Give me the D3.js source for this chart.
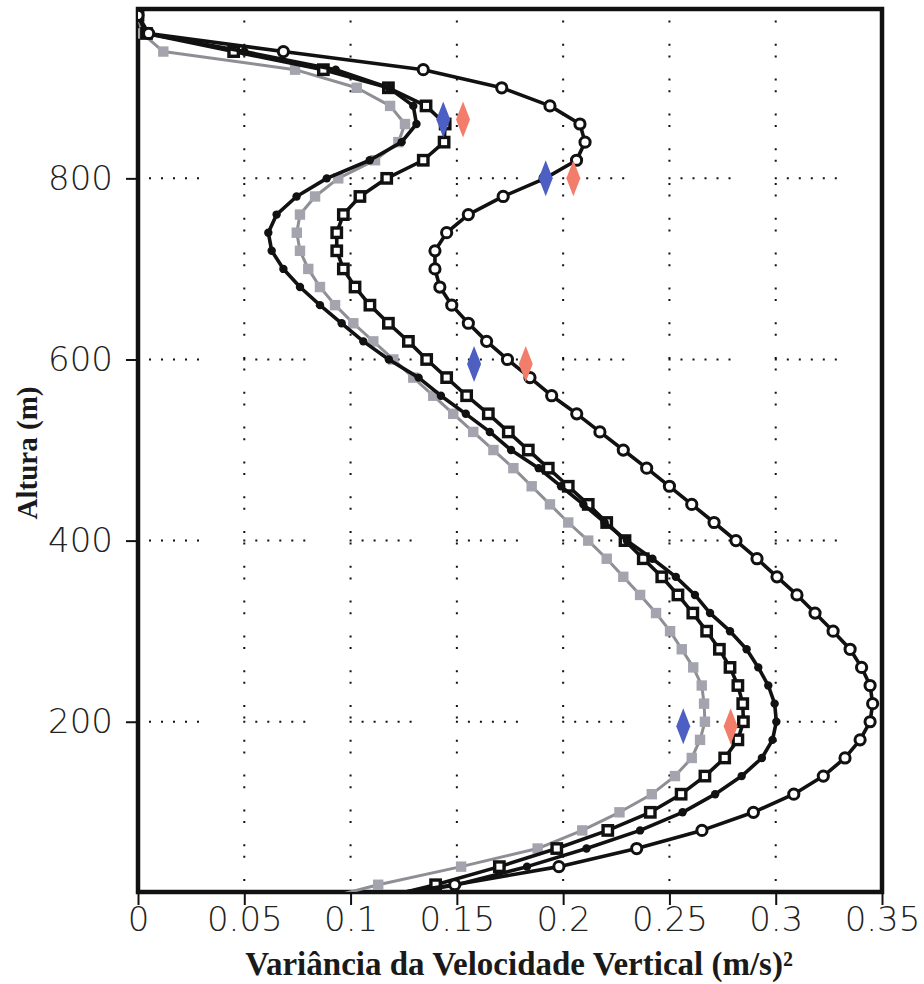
<!DOCTYPE html>
<html>
<head>
<meta charset="utf-8">
<script src="https://cdn.jsdelivr.net/npm/d3@7"></script>
<style>
  html, body { margin: 0; padding: 0; background: #ffffff; }
  svg { display: block; }
</style>
</head>
<body>
<svg id="chart" width="924" height="984"></svg>
<script>
// Alturas (m) dos níveis do modelo
const alturas = [0, 20, 40, 60, 80, 100, 120, 140, 160, 180, 200, 220, 240, 260, 280, 300,
  320, 340, 360, 380, 400, 420, 440, 460, 480, 500, 520, 540, 560, 580, 600, 620, 640,
  660, 680, 700, 720, 740, 760, 780, 800, 820, 840, 860, 880, 900, 920, 940, 960, 980, 1000];

// Variância da velocidade vertical (m/s)^2 — quatro perfis simulados
const perfilCinza = [0.080, 0.113, 0.152, 0.188, 0.209, 0.2265, 0.2417, 0.2526, 0.2605, 0.2644,
  0.2667, 0.2663, 0.2652, 0.2612, 0.2558, 0.2503, 0.2437, 0.2362, 0.2283, 0.2205,
  0.2118, 0.2024, 0.1938, 0.1852, 0.1766, 0.1672, 0.1577, 0.1483, 0.1389, 0.1295,
  0.1201, 0.1107, 0.1013, 0.0927, 0.0856, 0.0801, 0.0762, 0.0747, 0.0762, 0.0833,
  0.0942, 0.1115, 0.1225, 0.1256, 0.1186, 0.1029, 0.0739, 0.0119, 0.002, 0, 0];

const perfilQuadrados = [0.105, 0.140, 0.170, 0.197, 0.221, 0.241, 0.2555, 0.2667, 0.276, 0.2822,
  0.2848, 0.2845, 0.2822, 0.2785, 0.2735, 0.2675, 0.2610, 0.2540, 0.2464, 0.2377,
  0.2291, 0.2205, 0.2118, 0.2024, 0.1930, 0.1836, 0.1742, 0.1648, 0.1546, 0.1452,
  0.1358, 0.1272, 0.1178, 0.1091, 0.1021, 0.0966, 0.0935, 0.0935, 0.0966, 0.1044,
  0.1170, 0.1342, 0.1440, 0.1445, 0.1355, 0.1178, 0.0872, 0.045, 0.004, 0, 0];

const perfilPontos = [0.100, 0.150, 0.183, 0.211, 0.2362, 0.2562, 0.2715, 0.2840, 0.2935, 0.2985,
  0.3003, 0.2995, 0.2965, 0.2918, 0.2863, 0.2785, 0.2691, 0.2620, 0.2530, 0.2420,
  0.2300, 0.2195, 0.2095, 0.1990, 0.1885, 0.1755, 0.1655, 0.1542, 0.1425, 0.1320,
  0.1180, 0.1060, 0.0958, 0.0856, 0.0762, 0.0684, 0.0629, 0.0613, 0.0652, 0.0746,
  0.0888, 0.1090, 0.1240, 0.1310, 0.1295, 0.1180, 0.0930, 0.050, 0.004, 0, 0];

const perfilCirculos = [0.090, 0.149, 0.198, 0.2346, 0.2653, 0.2895, 0.3085, 0.3224, 0.3326, 0.3397,
  0.3444, 0.3456, 0.3444, 0.3404, 0.3350, 0.3270, 0.3185, 0.3100, 0.3006, 0.2912,
  0.2813, 0.2710, 0.2605, 0.2500, 0.2393, 0.2283, 0.2173, 0.2064, 0.1946, 0.1844,
  0.1738, 0.1640, 0.1554, 0.1476, 0.1420, 0.1397, 0.1397, 0.1452, 0.1554, 0.1718,
  0.1915, 0.2063, 0.2103, 0.2079, 0.1938, 0.1711, 0.1342, 0.0684, 0.005, 0, 0];

// Valores observados (losangos)
const obsAlturas = [195, 595, 800, 865];
const obsAzul = [0.2565, 0.1581, 0.1918, 0.1436];
const obsVermelho = [0.2788, 0.1824, 0.2048, 0.1529];

// Eixos
const xTicks = [0, 0.05, 0.1, 0.15, 0.2, 0.25, 0.3, 0.35];
const xTickLabels = ["0", "0.05", "0.1", "0.15", "0.2", "0.25", "0.3", "0.35"];
const yTicks = [200, 400, 600, 800];
const yTickLabels = ["200", "400", "600", "800"];

const svg = d3.select("#chart");
const area = { left: 138, right: 882, top: 9, bottom: 892 };

const x = d3.scaleLinear().domain([0, 0.35]).range([area.left, area.right]);
const y = d3.scaleLinear().domain([12, 987]).range([area.bottom, area.top]);

svg.append("defs").append("clipPath").attr("id", "clipArea")
  .append("rect")
  .attr("x", area.left).attr("y", area.top)
  .attr("width", area.right - area.left).attr("height", area.bottom - area.top);

// Grade pontilhada
const grade = svg.append("g");
grade.selectAll("line.v")
  .data(xTicks.filter(d => d > 0 && d < 0.35))
  .join("line")
  .attr("x1", d => x(d)).attr("x2", d => x(d))
  .attr("y1", area.top).attr("y2", area.bottom)
  .attr("stroke", "#111").attr("stroke-width", 2)
  .attr("stroke-dasharray", "2,9.6,2,21.2");
grade.selectAll("line.h")
  .data(yTicks)
  .join("line")
  .attr("x1", area.left - 1).attr("x2", area.right)
  .attr("y1", d => y(d)).attr("y2", d => y(d))
  .attr("stroke", "#111").attr("stroke-width", 2)
  .attr("stroke-dasharray", "2,10,2,10,2,10,2,10,2,10,2,44.3");

// Moldura
svg.append("rect")
  .attr("x", area.left).attr("y", area.top)
  .attr("width", area.right - area.left).attr("height", area.bottom - area.top)
  .attr("fill", "none").attr("stroke", "#111").attr("stroke-width", 4.5);

// Eixo X
const eixoX = svg.append("g")
  .attr("transform", `translate(0,${area.bottom})`)
  .call(d3.axisBottom(x).tickValues(xTicks).tickSize(13).tickPadding(2)
    .tickFormat((d, i) => xTickLabels[i]));
eixoX.select(".domain").remove();
eixoX.selectAll(".tick line").attr("stroke", "#111").attr("stroke-width", 2);
eixoX.selectAll(".tick text")
  .attr("fill", "#222")
  .style("font-family", "'DejaVu Sans', sans-serif")
  .style("font-weight", 200)
  .style("font-size", "34px");

// Eixo Y
const eixoY = svg.append("g")
  .attr("transform", `translate(${area.left},0)`)
  .call(d3.axisLeft(y).tickValues(yTicks).tickSize(12).tickPadding(13)
    .tickFormat((d, i) => yTickLabels[i]));
eixoY.select(".domain").remove();
eixoY.selectAll(".tick line").attr("stroke", "#111").attr("stroke-width", 2);
eixoY.selectAll(".tick text")
  .attr("fill", "#222")
  .style("font-family", "'DejaVu Sans', sans-serif")
  .style("font-weight", 200)
  .style("font-size", "34px");

// Títulos dos eixos
svg.append("text")
  .attr("x", 519).attr("y", 975)
  .attr("text-anchor", "middle")
  .style("font-family", "'Liberation Serif', 'Times New Roman', serif")
  .style("font-weight", "bold")
  .style("font-size", "33px")
  .attr("fill", "#1a1a1a")
  .text("Variância da Velocidade Vertical (m/s)²");

svg.append("text")
  .attr("transform", "translate(37,453) rotate(-90)")
  .attr("text-anchor", "middle")
  .style("font-family", "'Liberation Serif', 'Times New Roman', serif")
  .style("font-weight", "bold")
  .style("font-size", "29px")
  .attr("fill", "#1a1a1a")
  .text("Altura (m)");

// Perfis
const plot = svg.append("g").attr("clip-path", "url(#clipArea)");
const linha = d3.line().x(d => x(d[0])).y(d => y(d[1]));
const pares = vals => vals.map((v, i) => [v, alturas[i]]);

const series = [
  { nome: "cinza", vals: perfilCinza, cor: "#8e8e94", largura: 3 },
  { nome: "quadrados", vals: perfilQuadrados, cor: "#111", largura: 3.6 },
  { nome: "pontos", vals: perfilPontos, cor: "#111", largura: 3.6 },
  { nome: "circulos", vals: perfilCirculos, cor: "#111", largura: 3.6 }
];

series.forEach(s => {
  const g = plot.append("g").attr("class", "serie-" + s.nome);
  g.append("path")
    .datum(pares(s.vals))
    .attr("d", linha)
    .attr("fill", "none")
    .attr("stroke", s.cor)
    .attr("stroke-width", s.largura)
    .attr("stroke-linejoin", "round");

  const pts = g.selectAll(".m").data(pares(s.vals));
  if (s.nome === "cinza") {
    pts.join("rect")
      .attr("x", d => x(d[0]) - 5.2).attr("y", d => y(d[1]) - 5.2)
      .attr("width", 10.4).attr("height", 10.4)
      .attr("fill", "#a4a4ae");
  } else if (s.nome === "quadrados") {
    pts.join("rect")
      .attr("x", d => x(d[0]) - 4.7).attr("y", d => y(d[1]) - 4.7)
      .attr("width", 9.4).attr("height", 9.4)
      .attr("fill", "#fff").attr("stroke", "#111").attr("stroke-width", 3.4);
  } else if (s.nome === "pontos") {
    pts.join("circle")
      .attr("cx", d => x(d[0])).attr("cy", d => y(d[1]))
      .attr("r", 4.2).attr("fill", "#111");
  } else {
    pts.join("circle")
      .attr("cx", d => x(d[0])).attr("cy", d => y(d[1]))
      .attr("r", 5.1)
      .attr("fill", "#fff").attr("stroke", "#111").attr("stroke-width", 3);
  }
});

// Observações: losangos alongados
const losango = (cx, cy) => `M${cx},${cy - 18} L${cx + 7},${cy} L${cx},${cy + 18} L${cx - 7},${cy} Z`;
const obs = plot.append("g");
obs.selectAll("path.azul")
  .data(obsAlturas.map((h, i) => [obsAzul[i], h]))
  .join("path")
  .attr("d", d => losango(x(d[0]), y(d[1])))
  .attr("fill", "#4d5fc2");
obs.selectAll("path.vermelho")
  .data(obsAlturas.map((h, i) => [obsVermelho[i], h]))
  .join("path")
  .attr("d", d => losango(x(d[0]), y(d[1])))
  .attr("fill", "#f27d6b");
</script>
</body>
</html>
